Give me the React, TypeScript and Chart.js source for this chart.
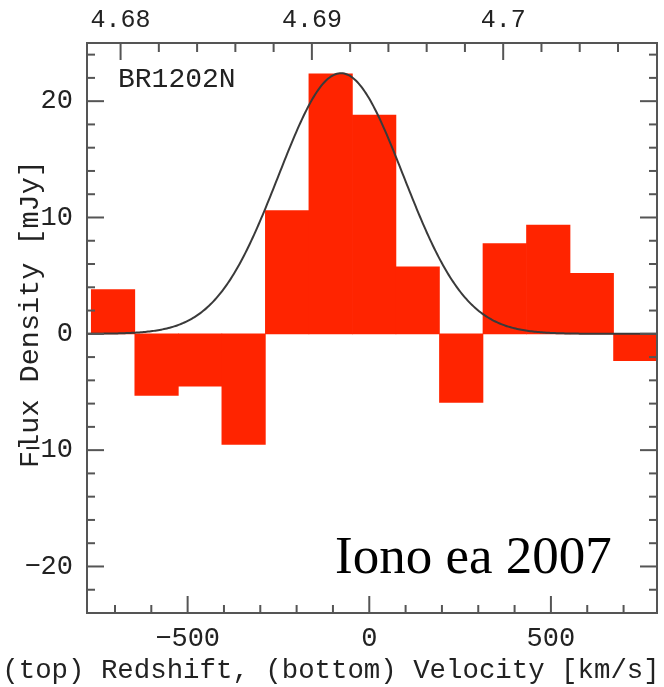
import React, { useEffect, useRef } from "react";
import { Chart, registerables } from "chart.js";

Chart.register(...registerables);

// Binned CO line spectrum (velocity bin centres in km/s, flux density in mJy)
const velocityCenters = [-705.3, -585.5, -465.7, -345.9, -226.1, -106.3, 13.5, 133.3, 253.1, 372.9, 492.7, 612.5, 732.3];
const fluxDensity = [3.8, -5.3, -4.5, -9.5, 10.6, 22.35, 18.8, 5.75, -5.9, 7.75, 9.35, 5.2, -2.3];

// Gaussian fit to the line
const fitAmplitude = 22.4;
const fitCenter = -78;
const fitSigma = 172;

// Axis ranges and labelled ticks
const velocityMin = -777;
const velocityMax = 792;
const fluxMin = -24;
const fluxMax = 25;
const velocityTicks = [-500, 0, 500];
const fluxTicks = [-20, -10, 0, 10, 20];
const redshiftTicks = [4.68, 4.69, 4.7];

const systemicRedshift = 4.693;
const SPEED_OF_LIGHT = 299792.458;

const sourceName = "BR1202N";
const citation = "Iono ea 2007";
const xTitle = "(top) Redshift, (bottom) Velocity [km/s]";
const yTitle = "Flux Density [mJy]";

const toRedshift = (v: number) => systemicRedshift + (v * (1 + systemicRedshift)) / SPEED_OF_LIGHT;

const MONO = '"Liberation Mono", "DejaVu Sans Mono", monospace';
const TEXT = "#222222";
const FRAME = "#555555";

const fmt = (v: number) => {
  const s = String(Number(v.toFixed(3)));
  return v < 0 ? "\u2212" + s.slice(1) : s;
};

function fitCurve() {
  const pts: { x: number; y: number }[] = [];
  for (let v = velocityMin; v <= velocityMax; v += 4) {
    const d = (v - fitCenter) / fitSigma;
    pts.push({ x: v, y: fitAmplitude * Math.exp(-0.5 * d * d) });
  }
  return pts;
}

const frameAndTicks = {
  id: "frameAndTicks",
  afterDatasetsDraw(chart: any) {
    const { ctx, chartArea: a, scales } = chart;
    const line = (x1: number, y1: number, x2: number, y2: number) => {
      ctx.beginPath();
      ctx.moveTo(x1, y1);
      ctx.lineTo(x2, y2);
      ctx.stroke();
    };
    ctx.save();
    ctx.strokeStyle = FRAME;
    ctx.lineWidth = 2;
    ctx.strokeRect(a.left, a.top, a.right - a.left, a.bottom - a.top);

    // flux ticks on left and right
    for (let v = -24; v <= 24; v += 2) {
      const y = scales.y.getPixelForValue(v);
      const len = v % 10 === 0 ? 17 : 8;
      line(a.left, y, a.left + len, y);
      line(a.right, y, a.right - len, y);
    }
    // velocity ticks along bottom
    for (let v = -700; v <= 700; v += 100) {
      const x = scales.x.getPixelForValue(v);
      const len = v % 500 === 0 ? 17 : 8;
      line(x, a.bottom, x, a.bottom - len);
    }
    // redshift ticks along top
    for (let i = 0; i <= 14; i++) {
      const z = 4.68 + i * 0.002;
      const x = scales.x2.getPixelForValue(z);
      if (x > a.right - 1) break;
      const len = i % 5 === 0 ? 17 : 9;
      line(x, a.top, x, a.top + len);
    }
    ctx.restore();
  },
  afterDraw(chart: any) {
    const { ctx, chartArea: a, width } = chart;
    ctx.save();
    ctx.fillStyle = TEXT;

    // source name inside the frame
    ctx.font = `28px ${MONO}`;
    ctx.textBaseline = "middle";
    ctx.textAlign = "left";
    ctx.fillText(sourceName, a.left + 31, a.top + 37);

    // axis titles
    ctx.font = `27.4px ${MONO}`;
    ctx.textAlign = "center";
    ctx.fillText(xTitle, width / 2 - 1, 671);

    ctx.save();
    ctx.translate(30, 314);
    ctx.rotate(-Math.PI / 2);
    ctx.font = `28.5px ${MONO}`;
    ctx.fillText(yTitle, 0, 0);
    ctx.restore();

    // citation
    ctx.fillStyle = "#000000";
    ctx.font = '53px "Liberation Serif", "Times New Roman", serif';
    ctx.textAlign = "left";
    ctx.textBaseline = "alphabetic";
    ctx.fillText(citation, 335, 573);
    ctx.restore();
  },
};

export default function App() {
  const canvasRef = useRef<HTMLCanvasElement | null>(null);

  useEffect(() => {
    const canvas = canvasRef.current;
    if (!canvas) return;
    const chart = new Chart(canvas, {
      type: "bar",
      data: {
        datasets: [
          {
            type: "line",
            label: "Gaussian fit",
            data: fitCurve(),
            borderColor: "#3a3a3a",
            borderWidth: 2,
            pointRadius: 0,
            tension: 0,
            fill: false,
            order: 0,
          } as any,
          {
            type: "bar",
            label: sourceName,
            data: velocityCenters.map((v, i) => ({ x: v, y: fluxDensity[i] })),
            backgroundColor: "#ff2400",
            borderWidth: 0,
            barPercentage: 1,
            categoryPercentage: 1,
            order: 1,
          } as any,
        ],
      },
      options: {
        responsive: false,
        animation: false,
        devicePixelRatio: 1,
        layout: { padding: { left: 0, right: 7, top: 0, bottom: 0 } },
        plugins: { legend: { display: false }, tooltip: { enabled: false } },
        scales: {
          x: {
            type: "linear",
            position: "bottom",
            min: velocityMin,
            max: velocityMax,
            offset: false,
            grid: { display: false, drawTicks: false },
            border: { display: false },
            afterBuildTicks: (s: any) => {
              s.ticks = velocityTicks.map((v) => ({ value: v }));
            },
            afterFit: (s: any) => {
              s.height = 74;
            },
            ticks: {
              font: { family: MONO, size: 27 },
              color: TEXT,
              padding: 10,
              maxRotation: 0,
              autoSkip: false,
              callback: (v: any) => fmt(Number(v)),
            },
          },
          x2: {
            type: "linear",
            position: "top",
            min: toRedshift(velocityMin),
            max: toRedshift(velocityMax),
            offset: false,
            grid: { display: false, drawTicks: false },
            border: { display: false },
            afterBuildTicks: (s: any) => {
              s.ticks = redshiftTicks.map((v) => ({ value: v }));
            },
            afterFit: (s: any) => {
              s.height = 43;
            },
            ticks: {
              font: { family: MONO, size: 25 },
              color: TEXT,
              padding: 8,
              maxRotation: 0,
              autoSkip: false,
              callback: (v: any) => fmt(Number(v)),
            },
          },
          y: {
            type: "linear",
            position: "left",
            min: fluxMin,
            max: fluxMax,
            grid: { display: false, drawTicks: false },
            border: { display: false },
            afterBuildTicks: (s: any) => {
              s.ticks = fluxTicks.map((v) => ({ value: v }));
            },
            afterFit: (s: any) => {
              s.width = 87;
            },
            ticks: {
              font: { family: MONO, size: 27 },
              color: TEXT,
              padding: 14,
              autoSkip: false,
              callback: (v: any) => fmt(Number(v)),
            },
          },
        },
      },
      plugins: [frameAndTicks],
    });
    return () => chart.destroy();
  }, []);

  return (
    <div style={{ position: "absolute", left: 0, top: 0, width: 664, height: 687, background: "#ffffff" }}>
      <canvas ref={canvasRef} width={664} height={687} style={{ display: "block" }} />
    </div>
  );
}
